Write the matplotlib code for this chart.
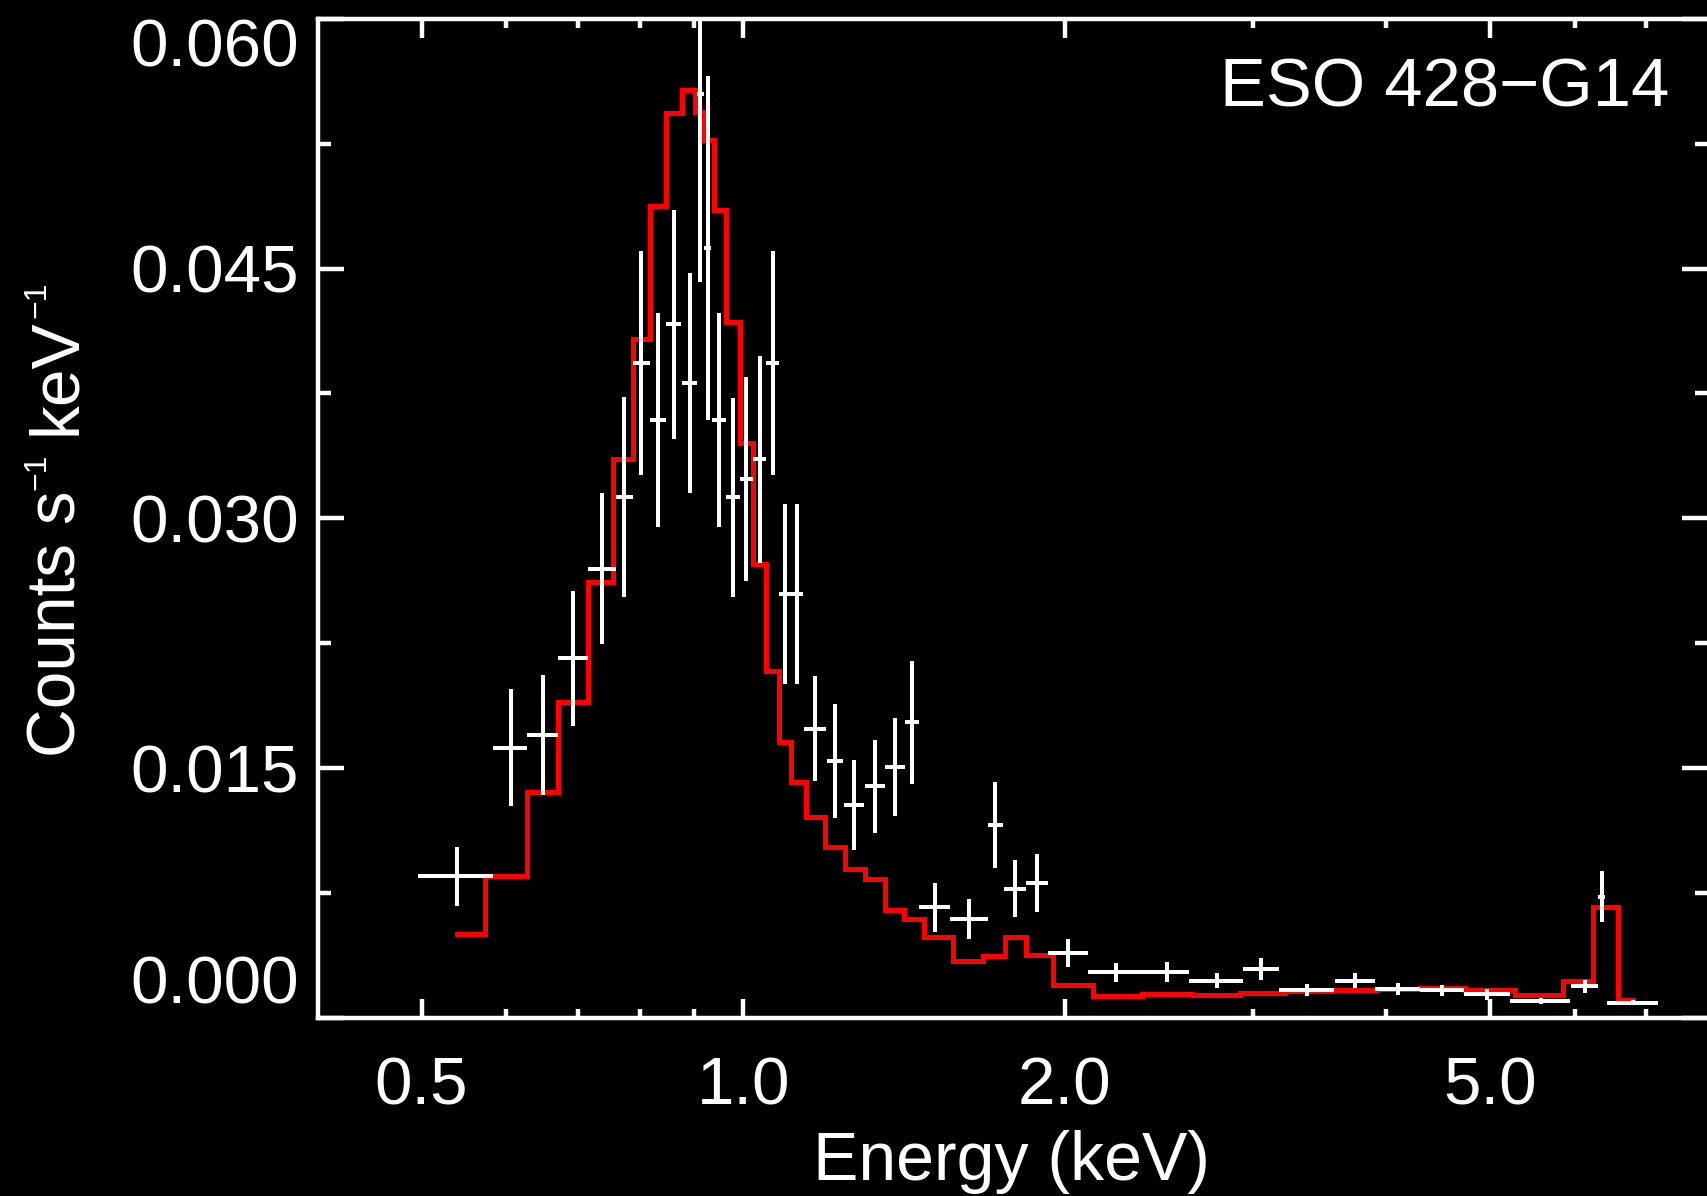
import numpy as np
import matplotlib
matplotlib.use('Agg')
import matplotlib.pyplot as plt
from matplotlib.ticker import NullFormatter, FixedLocator, FixedFormatter
from matplotlib.transforms import IdentityTransform

plt.rcParams['font.family'] = ['Liberation Sans', 'DejaVu Sans']

# ---- data ----
energy = [0.54, 0.6057, 0.6496, 0.6933, 0.7375, 0.7739, 0.803, 0.8324, 0.8613, 0.8912,
          0.9121, 0.9267, 0.9497, 0.9787, 1.0072, 1.0366, 1.0656, 1.0951, 1.1235, 1.168,
          1.2194, 1.2703, 1.3291, 1.3876, 1.4381, 1.5125, 1.6284, 1.7224, 1.7972, 1.8843,
          2.0152, 2.2341, 2.4906, 2.7762, 3.0537, 3.3729, 3.741, 4.0978, 4.51, 4.9697,
          5.584, 6.1332, 6.3632, 6.805]
energy_halfwidth = [0.0435, 0.0222, 0.0217, 0.0221, 0.022, 0.0144, 0.0147, 0.0147, 0.0142, 0.0144,
                    0.0065, 0.0067, 0.0143, 0.014, 0.0145, 0.0149, 0.0141, 0.0138, 0.0145, 0.0286,
                    0.021, 0.0283, 0.0276, 0.0289, 0.0217, 0.0505, 0.0654, 0.0286, 0.0439, 0.0432,
                    0.0877, 0.1313, 0.1252, 0.1604, 0.1171, 0.2022, 0.1583, 0.1985, 0.2136, 0.2461,
                    0.3605, 0.1759, 0.046, 0.3723]
counts = [0.00849, 0.01621, 0.01697, 0.02158, 0.02698, 0.03129, 0.03934, 0.03588, 0.04164, 0.03814,
          0.0555, 0.04624, 0.03588, 0.03125, 0.03236, 0.03354, 0.03934, 0.02546, 0.02546, 0.01736,
          0.01543, 0.01276, 0.01391, 0.01507, 0.01774, 0.00664, 0.00594, 0.01158, 0.00774, 0.0081,
          0.00388, 0.00274, 0.00274, 0.00224, 0.00294, 0.00168, 0.00224, 0.00174, 0.00164, 0.0014,
          0.00098, 0.00188, 0.00728, 0.0009]
counts_err = [0.00179, 0.00351, 0.0036, 0.00407, 0.00455, 0.006, 0.00673, 0.00643, 0.0069, 0.00662,
              0.01132, 0.01034, 0.00643, 0.006, 0.0061, 0.00621, 0.00672, 0.00541, 0.00541, 0.00315,
              0.00343, 0.0027, 0.0028, 0.00293, 0.00368, 0.00147, 0.00122, 0.00258, 0.00171, 0.00175,
              0.00083, 0.00057, 0.0006, 0.00048, 0.00065, 0.00035, 0.00048, 0.00038, 0.00033, 0.00032,
              0.00018, 0.00038, 0.00153, 0.00015]
model = [0.00506, 0.00849, 0.01357, 0.01897, 0.02615, 0.03354, 0.04074, 0.04874, 0.05434, 0.0557,
         0.05438, 0.05274, 0.04854, 0.04178, 0.03454, 0.02724, 0.02081, 0.01657, 0.01417, 0.01207,
         0.01025, 0.00896, 0.00832, 0.0065, 0.00594, 0.00484, 0.0034, 0.0037, 0.00484, 0.00378,
         0.00194, 0.0013, 0.00144, 0.00134, 0.00148, 0.00158, 0.00168, 0.00174, 0.0018, 0.00164,
         0.00134, 0.0022, 0.00664, 0.00104]

x_major = [0.5, 1.0, 2.0, 5.0]
x_major_labels = ['0.5', '1.0', '2.0', '5.0']
x_minor = [0.6, 0.7, 0.8, 0.9, 3.0, 4.0, 6.0, 7.0]
y_major = [0.0, 0.015, 0.030, 0.045, 0.060]
y_major_labels = ['0.000', '0.015', '0.030', '0.045', '0.060']
y_minor = [0.0075, 0.0225, 0.0375, 0.0525]
title_text = 'ESO 428\u2212G14'
xlabel_text = 'Energy (keV)'

W, H = 1708, 1196
fig = plt.figure(figsize=(W / 100, H / 100), dpi=100, facecolor='black')
ax = fig.add_axes([318 / W, 1 - 1017.8 / H, 1 - 318 / W, (1017.8 - 18.8) / H])
ax.set_facecolor('black')
ax.set_xscale('log')

ax.step(energy, model, where='mid', color='#ff0000', lw=3.6, zorder=2, solid_joinstyle='miter')
ax.errorbar(energy, counts, xerr=energy_halfwidth, yerr=counts_err, fmt='none',
            ecolor='white', elinewidth=2.9, capsize=0, zorder=3)

ax.set_xlim(0.4, 8.0)
ax.set_ylim(0.0, 0.060)

ax.xaxis.set_major_locator(FixedLocator(x_major))
ax.xaxis.set_major_formatter(FixedFormatter(x_major_labels))
ax.xaxis.set_minor_locator(FixedLocator(x_minor))
ax.xaxis.set_minor_formatter(NullFormatter())
ax.yaxis.set_major_locator(FixedLocator(y_major))
ax.yaxis.set_major_formatter(FixedFormatter(y_major_labels))
ax.yaxis.set_minor_locator(FixedLocator(y_minor))
ax.yaxis.set_minor_formatter(NullFormatter())

ax.tick_params(axis='x', which='major', direction='in', length=13.7, width=3.2, top=True,
               color='white', labelcolor='white', labelsize=48.5, pad=28)
ax.tick_params(axis='x', which='minor', direction='in', length=6.8, width=3.2, top=True, color='white')
ax.tick_params(axis='y', which='major', direction='in', length=18.7, width=3.2, right=True,
               color='white', labelcolor='white', labelsize=48.5, pad=14)
ax.tick_params(axis='y', which='minor', direction='in', length=9.4, width=3.2, right=True, color='white')

for name, sp in ax.spines.items():
    sp.set_color('white')
    sp.set_linewidth(3.2)
ax.spines['right'].set_visible(False)

yt = ax.yaxis.get_major_ticks()
yt[0].label1.set_va('bottom')
yt[-1].label1.set_va('top')

fig.text(1669 / W, 1 - 106.7 / H, title_text, ha='right', va='baseline', color='white', fontsize=49.5)
fig.text(1012 / W, 16 / H, xlabel_text, ha='center', va='baseline', color='white', fontsize=49)

# y label built from pieces so the superscripts are small like the reference
renderer = fig.canvas.get_renderer()
main_size, sup_size = 48.7, 23.0
base_x, sup_x = 75.0, 45.0
space = 0.278 * main_size * 100 / 72
pieces = [('Counts s', main_size, base_x, 0.0),
          ('\u22121', sup_size, sup_x, space),
          ('keV', main_size, base_x, 0.0),
          ('\u22121', sup_size, sup_x, 0.0)]
pos = H - 754 - 3.0
for txt, size, xb, gap_after in pieces:
    t = fig.text(xb, pos, txt, rotation=90, rotation_mode='anchor', ha='left', va='baseline',
                 fontsize=size, color='white', transform=IdentityTransform())
    pos += t.get_window_extent(renderer).height + gap_after

fig.savefig('out.png', dpi=100, facecolor='black')
